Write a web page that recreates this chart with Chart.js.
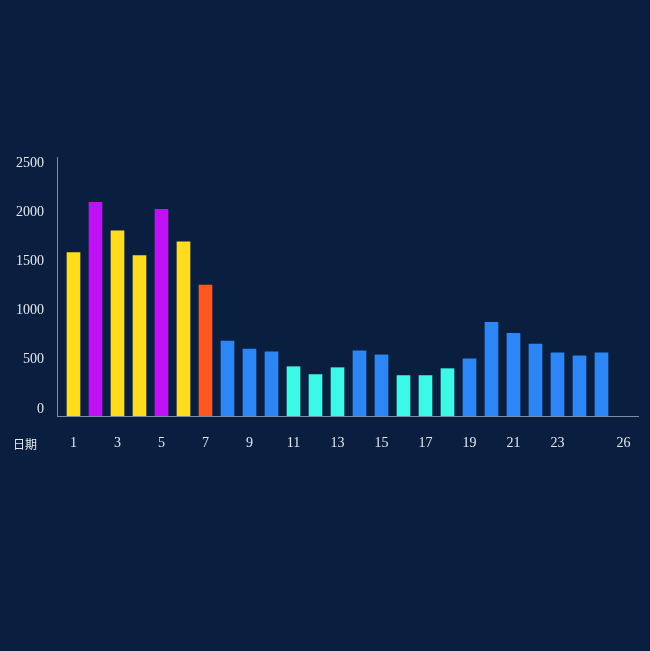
<!DOCTYPE html>
<html>
<head>
<meta charset="utf-8">
<script src="https://cdn.jsdelivr.net/npm/chart.js@4.4.0/dist/chart.umd.min.js"></script>
<style>
html,body{margin:0;padding:0;background:#0a1f3f;overflow:hidden;}
#c{display:block;}
</style>
</head>
<body>
<canvas id="c" width="650" height="651"></canvas>
<script>
// ---- data ----
const categories = ['1','2','3','4','5','6','7','8','9','10','11','12','13','14','15','16','17','18','19','20','21','22','23','24','25'];
const values = [1590,2100,1810,1560,2030,1700,1260,690,610,580,430,350,420,590,550,340,340,410,510,880,770,660,570,540,570];
const groups = ['A','B','A','A','B','A','C','D','D','D','E','E','E','D','D','E','E','E','D','D','D','D','D','D','D'];
const xTickLabels = ['1','3','5','7','9','11','13','15','17','19','21','23','26'];
const yTickLabels = [0,500,1000,1500,2000,2500];
const xAxisName = '日期';

// ---- style ----
const palette = {A:'#ffdd1e', B:'#bf10f6', C:'#ff5722', D:'#2d86f5', E:'#3cf8e6'};
const Y_MIN = -71, Y_MAX = 2561;

const axisNamePlugin = {
  id: 'axisName',
  afterDraw(chart) {
    const ctx = chart.ctx;
    const xs = chart.scales.x;
    ctx.save();
    ctx.font = '12px "Noto Sans CJK SC", sans-serif';
    ctx.fillStyle = '#e6eaf0';
    ctx.textAlign = 'left';
    ctx.textBaseline = 'middle';
    ctx.fillText(xAxisName, 13, xs.top + 28);
    ctx.restore();
  }
};

new Chart(document.getElementById('c'), {
  type: 'bar',
  data: {
    datasets: [{
      data: categories.map((c, i) => ({x: Number(c), y: values[i]})),
      backgroundColor: groups.map(g => palette[g]),
      borderWidth: 0,
      barThickness: 13,
      base: Y_MIN
    }]
  },
  options: {
    responsive: false,
    animation: false,
    devicePixelRatio: 1,
    layout: {padding: {top: 157, right: 12, left: 0, bottom: 0}},
    plugins: {legend: {display: false}, tooltip: {enabled: false}},
    scales: {
      x: {
        type: 'linear',
        offset: false,
        min: 0.25,
        max: 26.66,
        afterBuildTicks(s) { s.ticks = xTickLabels.map(v => ({value: Number(v)})); },
        afterFit(s) { s.height = 651 - 416; },
        grid: {display: false, drawTicks: false, offset: false},
        border: {display: true, color: '#7f8ea6', width: 1},
        ticks: {
          color: '#e6eaf0',
          font: {family: '"Liberation Serif", serif', size: 14},
          padding: 19,
          maxRotation: 0,
          autoSkip: false,
          callback: (v) => String(v)
        }
      },
      y: {
        min: Y_MIN,
        max: Y_MAX,
        afterBuildTicks(s) { s.ticks = yTickLabels.map(v => ({value: v})); },
        afterFit(s) { s.width = 57; },
        grid: {display: false, drawTicks: false},
        border: {display: true, color: '#7f8ea6', width: 1},
        ticks: {
          color: '#e6eaf0',
          font: {family: '"Liberation Serif", serif', size: 14},
          padding: 13,
          autoSkip: false,
          callback: (v) => String(v)
        }
      }
    }
  },
  plugins: [axisNamePlugin]
});
</script>
</body>
</html>
